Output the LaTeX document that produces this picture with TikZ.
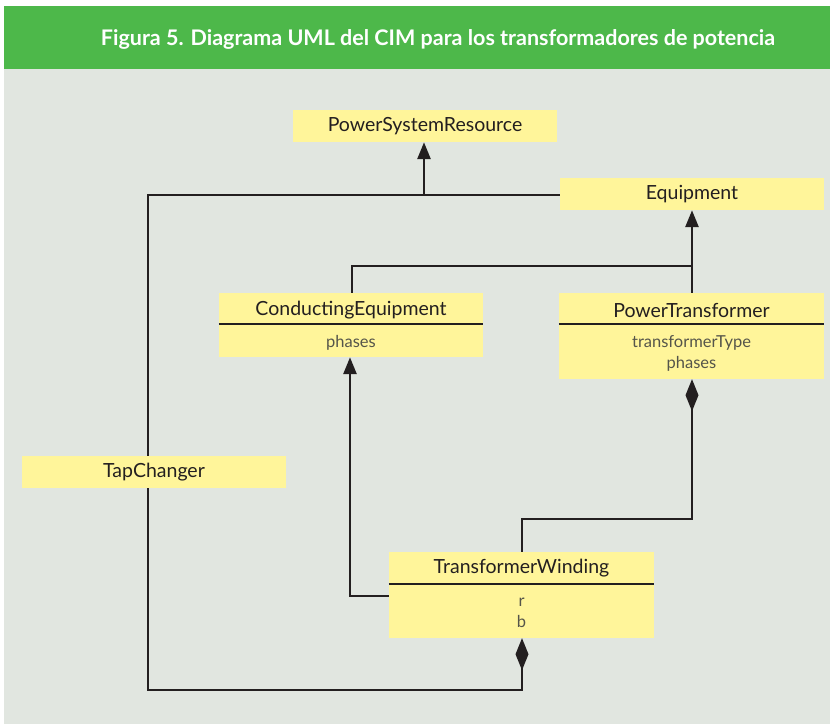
\documentclass[tikz,border=0pt]{standalone}
\usepackage{fontspec}
\setmainfont{Lato}
\usetikzlibrary{arrows.meta}
\definecolor{hdrgreen}{HTML}{4DB84A}
\definecolor{panelgray}{HTML}{E1E6E0}
\definecolor{boxyellow}{HTML}{FFF59A}
\definecolor{inkdark}{HTML}{231F20}
\definecolor{attrgray}{HTML}{55554A}
\tikzset{
  classbox/.style={fill=boxyellow, draw=none, inner sep=0pt, minimum width=264pt},
  classname/.style={text=inkdark, font=\fontsize{19.5}{22}\selectfont, inner sep=0pt},
  attrtext/.style={text=attrgray, font=\fontsize{16.5}{21}\selectfont, align=center, inner sep=0pt},
  sepline/.style={draw=inkdark, line width=1.3pt},
  conn/.style={draw=inkdark, line width=2.8pt},
  genarrow/.style={conn, -{Triangle[width=13pt,length=17pt]}},
  comparrow/.style={conn, {Diamond[width=13pt,length=32pt]}-},
}
\begin{document}
\begin{tikzpicture}[x=1pt,y=-1pt]
\useasboundingbox (0,0) rectangle (830,724);
\fill[white] (0,0) rectangle (830,724);
\fill[panelgray] (4,69) rectangle (830,724);
\fill[hdrgreen] (4,6) rectangle (830,69);
\node[text=white, font=\bfseries\fontsize{21.5}{24}\selectfont, inner sep=0pt] (title) at (438,39) {Figura 5. Diagrama UML del CIM para los transformadores de potencia};

% classes
\node[classbox, minimum height=32pt] (psr) at (425,126) {};
\node[classname] (psrname) at (psr.center) {PowerSystemResource};
\node[classbox, minimum height=32pt] (eq) at (692,194) {};
\node[classname] (eqname) at (eq.center) {Equipment};
\node[classbox, minimum height=32pt] (tc) at (154,472) {};
\node[classname] (tcname) at (tc.center) {TapChanger};

\node[classbox, minimum height=64pt] (ce) at (351,325) {};
\node[classname] (cename) at (351,310) {ConductingEquipment};
\draw[sepline] (ce.west |- 0,324) -- (ce.east |- 0,324);
\node[attrtext] (ceattr) at (351,343) {phases};

\node[classbox, minimum height=86pt, minimum width=265pt] (pt) at (691.5,336) {};
\node[classname] (ptname) at (691.5,310) {PowerTransformer};
\draw[sepline] (pt.west |- 0,324) -- (pt.east |- 0,324);
\node[attrtext] (ptattr) at (691.5,353.5) {transformerType\\phases};

\node[classbox, minimum height=86pt, minimum width=265pt] (tw) at (521.5,595) {};
\node[classname] (twname) at (521.5,568) {TransformerWinding};
\draw[sepline] (tw.west |- 0,584) -- (tw.east |- 0,584);
\node[attrtext] (twattr) at (521.5,613) {r\\b};

% junctions
\coordinate (j1) at (424,195);
\coordinate (j2) at (692,266);
\coordinate (j3) at (350,596);
\coordinate (j4) at (522,519);
\coordinate (j5) at (148,690);
\coordinate (j6) at (522,690);

% generalizations
\draw[conn] (tc.north -| j5) |- (j1);
\draw[conn] (eq.west |- j1) -- (j1);
\draw[genarrow] (j1) -- (psr.south -| j1);
\draw[conn] (ce.north -| 352,0) |- (j2);
\draw[genarrow] (pt.north -| j2) -- (eq.south -| j2);
\draw[genarrow] (tw.west |- j3) -- (j3) -- (ce.south -| j3);

% compositions
\draw[comparrow] (pt.south -| j2) -- (j4 -| j2) -- (j4) -- (tw.north -| j4);
\draw[comparrow] (tw.south -| j6) -- (j6) -- (j5) -- (tc.south -| j5);
\end{tikzpicture}
\end{document}
